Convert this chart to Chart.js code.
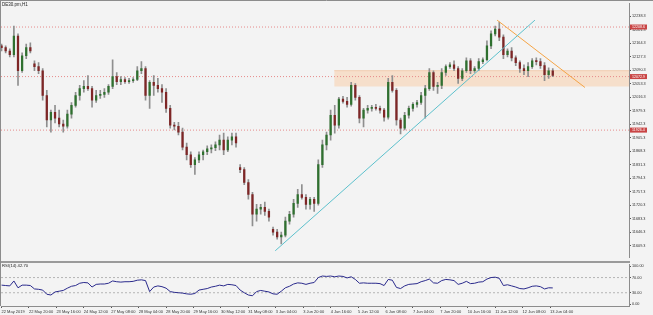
<!DOCTYPE html>
<html lang="en">
<head>
<meta charset="UTF-8">
<title>DE30.pm,H1</title>
<script src="https://cdn.jsdelivr.net/npm/chart.js@4.4.0/dist/chart.umd.min.js"></script>
<style>
    body {
        margin: 0;
        background: #f3f3f3;
        width: 653px;
        height: 315px;
        overflow: hidden;
        position: relative;
    }
    canvas { position: absolute; left: 0; }
    #priceChart { top: 0; }
    #rsiChart { top: 261px; }
</style>
</head>
<body>
<canvas id="priceChart" width="653" height="261"></canvas>
<canvas id="rsiChart" width="653" height="54"></canvas>
<script>
// H1 candles grouped by 3 hours
const opens = [12157,12152,12143,12133,12184,12089,12130,12152,12108,12100,
    12089,12021,11954,11975,11959,11943,11937,11970,11994,12021,
    12040,12046,12040,12008,12021,12024,12030,12046,12073,12059,
    12065,12059,12062,12065,12089,12095,12021,12057,12049,12040,
    12030,11986,11940,11937,11921,11880,11859,11832,11845,11859,
    11867,11875,11878,11886,11899,11872,11899,11908,11824,11818,
    11783,11750,11696,11710,11715,11704,11655,11647,11634,11639,
    11677,11696,11726,11750,11742,11723,11737,11726,11832,11886,
    11913,11967,11940,12011,12005,11997,12049,12016,11959,11981,
    11986,11989,11986,11981,11962,12057,12035,11954,11932,11967,
    11986,11997,12002,12021,12040,12084,12046,12049,12084,12100,
    12105,12095,12068,12089,12116,12089,12095,12114,12119,12157,
    12190,12203,12181,12133,12143,12124,12111,12095,12089,12100,
    12116,12114,12103,12078,12089];
const highs = [12162,12157,12149,12211,12190,12138,12162,12165,12116,12111,
    12095,12035,11981,11994,11981,11954,11981,12002,12030,12049,
    12062,12076,12046,12035,12035,12040,12051,12119,12084,12073,
    12070,12068,12070,12100,12114,12100,12062,12076,12068,12051,
    12040,11994,11948,11948,11932,11891,11867,11851,11867,11872,
    11883,11886,11894,11913,11918,11908,11918,11918,11832,11824,
    11791,11756,11723,11723,11729,11710,11661,11655,11647,11688,
    11704,11737,11764,11777,11750,11742,11742,11845,11899,11921,
    11981,11994,12016,12019,12016,12057,12054,12021,11986,11994,
    11994,11997,11992,11986,12068,12076,12040,11959,11975,11992,
    12002,12008,12030,12049,12095,12089,12057,12095,12105,12111,
    12116,12100,12095,12124,12122,12100,12122,12124,12171,12198,
    12211,12222,12187,12149,12152,12130,12116,12105,12111,12122,
    12124,12122,12111,12097,12095];
const lows = [12143,12138,12127,12127,12049,12084,12122,12138,12089,12081,
    12008,11935,11921,11946,11935,11921,11932,11959,11989,12008,
    12030,12035,11989,12002,12013,12016,12024,12040,12051,12051,
    12054,12054,12057,12062,12081,12008,11986,12021,12030,12002,
    11975,11932,11927,11913,11872,11845,11824,11805,11837,11845,
    11859,11864,11870,11872,11859,11867,11886,11880,11810,11777,
    11737,11664,11677,11696,11693,11677,11639,11628,11615,11634,
    11669,11688,11715,11737,11710,11710,11704,11721,11824,11872,
    11899,11918,11932,12000,11989,11992,12008,11946,11935,11973,
    11978,11981,11973,11951,11956,12030,11940,11916,11927,11959,
    11978,11989,11997,11959,12035,12035,12027,12040,12076,12095,
    12089,12054,12062,12084,12081,12084,12089,12108,12116,12149,
    12184,12171,12122,12127,12116,12103,12084,12078,12073,12095,
    12105,12095,12062,12068,12073];
const closes = [12152,12143,12133,12184,12089,12130,12152,12143,12100,12089,
    12021,11954,11975,11959,11943,11937,11970,11994,12021,12040,
    12046,12040,12008,12021,12024,12030,12046,12073,12059,12065,
    12059,12062,12065,12089,12095,12021,12057,12049,12040,12030,
    11986,11940,11937,11921,11880,11859,11832,11845,11859,11867,
    11875,11878,11886,11899,11872,11899,11908,11891,11818,11783,
    11750,11696,11710,11715,11704,11688,11647,11634,11639,11677,
    11696,11726,11750,11742,11723,11737,11726,11832,11886,11913,
    11967,11940,12011,12005,11997,12049,12016,11959,11981,11986,
    11989,11986,11981,11962,12057,12035,11954,11932,11967,11986,
    11997,12002,12021,12040,12084,12046,12049,12084,12100,12105,
    12095,12068,12089,12116,12089,12095,12114,12119,12157,12190,
    12203,12181,12133,12143,12124,12111,12095,12089,12100,12116,
    12114,12103,12078,12089,12076];

const rsiValues = [50,49,48,61,43,50,50,49,40,39,
    37,26,24,32,34,36,42,47,49,55,
    57,56,45,52,53,53,55,61,59,58,
    59,59,60,63,64,62,33,45,48,46,
    42,33,31,30,29,27,26,28,37,39,
    41,45,47,50,48,52,51,49,37,30,
    24,22,33,36,34,32,27,26,34,43,
    47,53,56,55,52,55,57,70,74,73,
    74,72,74,73,69,72,65,55,56,55,
    55,55,54,49,65,63,44,41,48,52,
    53,54,59,62,66,56,55,62,65,64,
    62,52,55,60,54,55,58,59,66,70,
    71,68,49,51,48,45,41,40,43,47,
    48,46,40,43,42.7];

// x axis labels, one every 20 bars
const timeLabels = ['22 May 2019','22 May 20:00','23 May 16:00','24 May 12:00','27 May 08:00',
    '28 May 04:00','28 May 20:00','29 May 16:00','30 May 12:00','31 May 08:00',
    '3 Jun 04:00','3 Jun 20:00','4 Jun 16:00','5 Jun 12:00','6 Jun 08:00',
    '7 Jun 04:00','7 Jun 20:00','10 Jun 16:00','11 Jun 12:00','12 Jun 08:00','13 Jun 04:00'];
const priceTicks = [11609.3,11646.3,11683.3,11720.3,11757.3,11794.3,11831.3,11868.3,11905.3,
    11942.3,11979.3,12016.3,12053.3,12090.3,12127.3,12164.3,12201.3,12238.3];
const rsiTicks = [0, 30, 70, 100];

const levels = [12208.6, 12072.9, 11926.4];
const zoneTop = 12089, zoneBottom = 12046, zoneStart = 242.6;
const upTrend = [[199.6, 11596], [389, 12227.5]];
const downTrend = [[361.4, 12227.5], [425.5, 12043]];

const xMin = -0.4, xMax = 457.6;
const hours = closes.map((c, i) => i * 3);
const axisFont = { family: 'Liberation Sans', size: 3.8 };

const bull = '#2f702f', bear = '#7e2626', wick = '#8f8f8f';

function fixWidth(scale) { scale.width = 24; }

const frame = {
    id: 'frame',
    afterDraw(chart) {
        const ctx = chart.ctx;
        const y = chart.scales.y;
        ctx.save();
        ctx.strokeStyle = '#8c8c8c';
        ctx.lineWidth = 1;
        ctx.beginPath();
        ctx.moveTo(0.5, 0); ctx.lineTo(0.5, 261);
        ctx.moveTo(0, 0.5); ctx.lineTo(653, 0.5);
        ctx.stroke();
        // red price labels on the axis
        ctx.font = '3.6px "Liberation Sans"';
        ctx.textBaseline = 'middle';
        levels.forEach(v => {
            const py = y.getPixelForValue(v);
            ctx.fillStyle = '#c94444';
            ctx.fillRect(630, py - 2.5, 17, 5);
            ctx.fillStyle = '#ffffff';
            ctx.fillText(v.toFixed(1), 632, py);
        });
        ctx.fillStyle = '#222';
        ctx.font = '4.5px "Liberation Sans"';
        ctx.fillText('DE30.pm,H1', 2, 5);
        ctx.restore();
    }
};

new Chart(document.getElementById('priceChart'), {
    type: 'bar',
    data: {
        datasets: [
            {
                type: 'line', order: 10,
                data: [{ x: zoneStart, y: zoneTop }, { x: xMax, y: zoneTop }],
                borderColor: '#f2cdb0', borderWidth: 1, pointRadius: 0,
                backgroundColor: '#f6dfcb', fill: { target: { value: zoneBottom } }
            },
            ...levels.map(v => ({
                type: 'line', order: 9,
                data: [{ x: xMin, y: v }, { x: xMax, y: v }],
                borderColor: '#e68a8a', borderWidth: 1, borderDash: [1, 2], pointRadius: 0
            })),
            {
                order: 3, grouped: false, barThickness: 1,
                data: hours.map((h, i) => ({ x: h, y: [lows[i], highs[i]] })),
                backgroundColor: wick
            },
            {
                order: 2, grouped: false, barThickness: 1.6, minBarLength: 1,
                data: hours.map((h, i) => ({ x: h, y: [opens[i], closes[i]] })),
                backgroundColor: closes.map((c, i) => c >= opens[i] ? bull : bear)
            },
            {
                type: 'line', order: 0,
                data: upTrend.map(p => ({ x: p[0], y: p[1] })),
                borderColor: '#5cc0cc', borderWidth: 1, pointRadius: 0
            },
            {
                type: 'line', order: 0,
                data: downTrend.map(p => ({ x: p[0], y: p[1] })),
                borderColor: '#f5a445', borderWidth: 1, pointRadius: 0
            }
        ]
    },
    options: {
        responsive: false,
        animation: false,
        layout: { padding: { left: 1, top: 2, bottom: 2, right: 0 } },
        plugins: { legend: { display: false }, tooltip: { enabled: false } },
        scales: {
            x: {
                type: 'linear', min: xMin, max: xMax, offset: false, display: false
            },
            y: {
                position: 'right', min: 11577, max: 12273.6,
                afterFit: fixWidth,
                afterBuildTicks: s => { s.ticks = priceTicks.map(v => ({ value: v })); },
                grid: { drawOnChartArea: false, tickLength: 2, color: '#555' },
                border: { color: '#8c8c8c' },
                ticks: {
                    font: axisFont, color: '#333', padding: 1,
                    callback: v => v.toFixed(1)
                }
            }
        }
    },
    plugins: [frame]
});

const rsiFrame = {
    id: 'rsiFrame',
    afterDraw(chart) {
        const ctx = chart.ctx;
        ctx.save();
        ctx.fillStyle = '#9a9a9a';
        ctx.fillRect(0, 0, 630, 2);
        ctx.strokeStyle = '#8c8c8c';
        ctx.beginPath();
        ctx.moveTo(0.5, 0); ctx.lineTo(0.5, 45);
        ctx.stroke();
        ctx.fillStyle = '#222';
        ctx.font = '4.2px "Liberation Sans"';
        ctx.textBaseline = 'middle';
        ctx.fillText('RSI(14) ' + rsiValues[rsiValues.length - 1].toFixed(2), 2, 5);
        ctx.restore();
    }
};

new Chart(document.getElementById('rsiChart'), {
    type: 'line',
    data: {
        datasets: [
            ...[70, 30].map(v => ({
                order: 5,
                data: [{ x: xMin, y: v }, { x: xMax, y: v }],
                borderColor: '#b5b5b5', borderWidth: 1, borderDash: [2, 2], pointRadius: 0
            })),
            {
                order: 0,
                data: hours.map((h, i) => ({ x: h, y: rsiValues[i] })),
                borderColor: '#2a2a8c', borderWidth: 1, pointRadius: 0, tension: 0
            }
        ]
    },
    options: {
        responsive: false,
        animation: false,
        layout: { padding: { left: 1, top: 1, bottom: 0, right: 0 } },
        plugins: { legend: { display: false }, tooltip: { enabled: false } },
        scales: {
            x: {
                type: 'linear', min: xMin, max: xMax, offset: false,
                afterFit: s => { s.height = 9; },
                afterBuildTicks: s => { s.ticks = timeLabels.map((t, i) => ({ value: i * 20 })); },
                grid: { drawOnChartArea: false, tickLength: 2, color: '#555' },
                border: { color: '#8c8c8c' },
                ticks: {
                    font: { family: 'Liberation Sans', size: 4 }, color: '#333',
                    align: 'start', maxRotation: 0, autoSkip: false, padding: 1,
                    callback: (v, i) => timeLabels[i]
                }
            },
            y: {
                position: 'right', min: -5, max: 105,
                afterFit: fixWidth,
                afterBuildTicks: s => { s.ticks = rsiTicks.map(v => ({ value: v })); },
                grid: { drawOnChartArea: false, tickLength: 2, color: '#555' },
                border: { color: '#8c8c8c' },
                ticks: {
                    font: axisFont, color: '#333', padding: 1,
                    callback: v => v.toFixed(2)
                }
            }
        }
    },
    plugins: [rsiFrame]
});
</script>
</body>
</html>
